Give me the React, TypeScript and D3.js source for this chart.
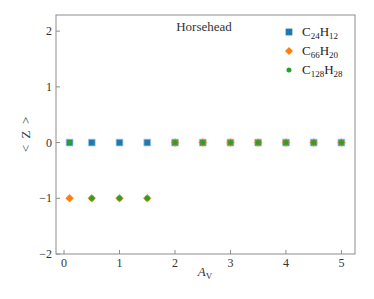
import { scaleLinear, symbol, symbolSquare, symbolCircle } from "d3";

const W = 374;
const H = 299;
const M = { top: 15, right: 19, bottom: 45, left: 56 };

const av = [0.1, 0.5, 1, 1.5, 2, 2.5, 3, 3.5, 4, 4.5, 5];
const zC24 = [0, 0, 0, 0, 0, 0, 0, 0, 0, 0, 0];
const zC66 = [-1, -1, -1, -1, 0, 0, 0, 0, 0, 0, 0];
const zC128 = [0, -1, -1, -1, 0, 0, 0, 0, 0, 0, 0];
const xTicks = [0, 1, 2, 3, 4, 5];
const yTicks = [-2, -1, 0, 1, 2];

// matplotlib "D" marker = a square turned 45 degrees
const series = [
  { name: ["C", "24", "H", "12"], z: zC24, color: "#1f77b4", shape: symbolSquare, size: 46, rot: 0 },
  { name: ["C", "66", "H", "20"], z: zC66, color: "#ff7f0e", shape: symbolSquare, size: 32, rot: 45 },
  { name: ["C", "128", "H", "28"], z: zC128, color: "#2ca02c", shape: symbolCircle, size: 20, rot: 0 },
];

const FONT = "'Liberation Serif', 'DejaVu Serif', serif";
const AXIS = "#8c8c8c";

function Formula({ parts, x, y }: { parts: string[]; x: number; y: number }) {
  return (
    <text x={x} y={y} fontSize={13} fill="#222" fontFamily={FONT}>
      <tspan>{parts[0]}</tspan>
      <tspan fontSize={9} dy={3}>{parts[1]}</tspan>
      <tspan dy={-3}>{parts[2]}</tspan>
      <tspan fontSize={9} dy={3}>{parts[3]}</tspan>
    </text>
  );
}

export default function App() {
  const x = scaleLinear().domain([-0.145, 5.245]).range([M.left, W - M.right]);
  const y = scaleLinear().domain([-2, 2.29]).range([H - M.bottom, M.top]);
  const x0 = M.left;
  const x1 = W - M.right;
  const y0 = H - M.bottom;
  const y1 = M.top;

  return (
    <svg width={W} height={H} style={{ position: "absolute", left: 0, top: 0, background: "#fff" }} fontFamily={FONT}>
      {xTicks.map((t) => (
        <g key={`x${t}`}>
          <line x1={x(t)} x2={x(t)} y1={y0} y2={y0 - 4} stroke={AXIS} />
          <text x={x(t)} y={y0 + 13} textAnchor="middle" fontSize={12} fill="#333">
            {t}
          </text>
        </g>
      ))}
      {yTicks.map((t) => (
        <g key={`y${t}`}>
          <line x1={x0} x2={x0 + 4} y1={y(t)} y2={y(t)} stroke={AXIS} />
          <text x={x0 - 4} y={y(t)} dy="0.35em" textAnchor="end" fontSize={12} fill="#333">
            {t < 0 ? `\u2212${-t}` : t}
          </text>
        </g>
      ))}
      {series.map((s) =>
        av.map((a, i) => (
          <path
            key={`${s.color}${i}`}
            d={symbol(s.shape, s.size)() ?? ""}
            transform={`translate(${x(a)},${y(s.z[i])}) rotate(${s.rot})`}
            fill={s.color}
            stroke={s.color === "#1f77b4" ? "#a9c9e2" : s.color}
            strokeWidth={s.color === "#1f77b4" ? 0.8 : 0.3}
          />
        ))
      )}
      <rect x={x0} y={y1} width={x1 - x0} height={y0 - y1} fill="none" stroke={AXIS} strokeWidth={1} />
      <text x={204} y={31} textAnchor="middle" fontSize={13} fill="#333">
        Horsehead
      </text>
      {series.map((s, i) => (
        <g key={`leg${i}`}>
          <path
            d={symbol(s.shape, s.size)() ?? ""}
            transform={`translate(289,${32 + i * 19}) rotate(${s.rot})`}
            fill={s.color}
          />
          <Formula parts={s.name} x={302} y={36 + i * 19} />
        </g>
      ))}
      <text x={205} y={276} textAnchor="middle" fontSize={13} fill="#333" fontStyle="italic">
        A<tspan fontSize={9} dy={3} fontStyle="normal">V</tspan>
      </text>
      <text
        transform={`translate(30,${(y0 + y1) / 2}) rotate(-90)`}
        textAnchor="middle"
        fontSize={13}
        fill="#333"
      >
        {"<\u2002Z\u2002>"}
      </text>
    </svg>
  );
}
